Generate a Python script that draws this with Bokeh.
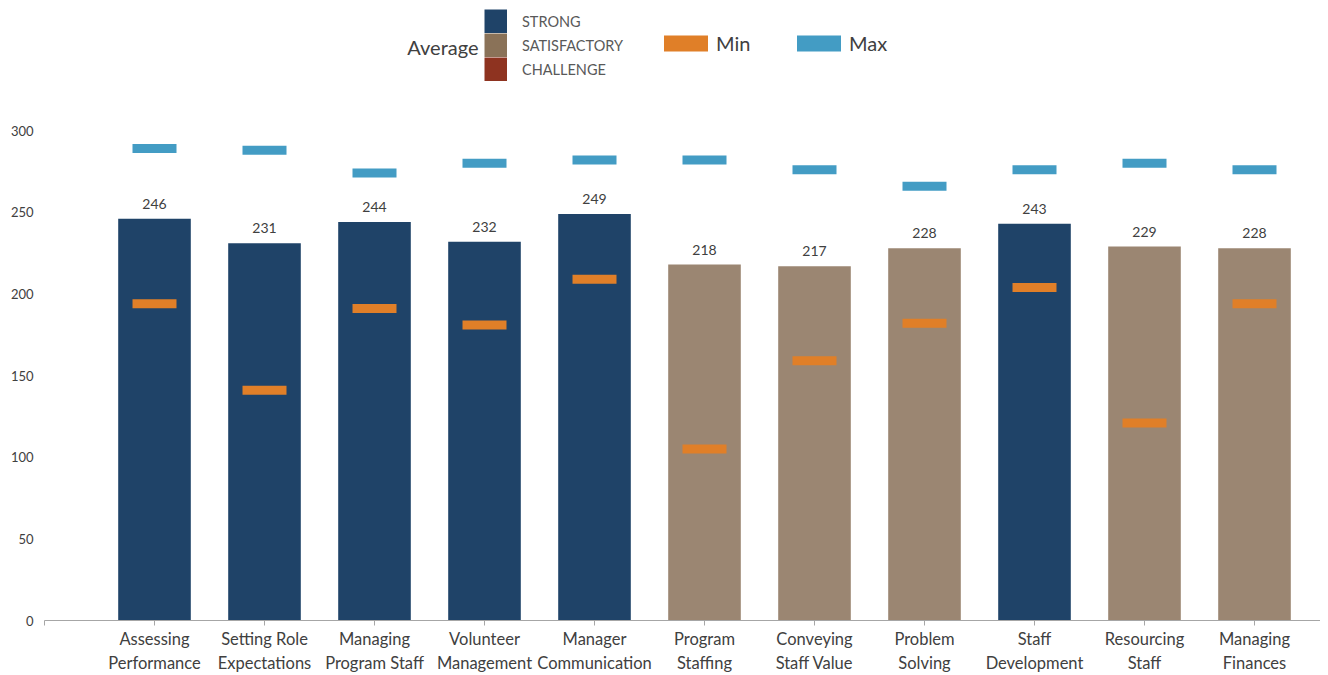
from bokeh.plotting import figure
from bokeh.models import ColumnDataSource, Range1d, FixedTicker, Legend, LegendItem, Label
from bokeh.embed import file_html
from bokeh.resources import INLINE
from bokeh.core.properties import value

categories = ["Assessing\nPerformance", "Setting Role\nExpectations", "Managing\nProgram Staff",
              "Volunteer\nManagement", "Manager\nCommunication", "Program\nStaffing",
              "Conveying\nStaff Value", "Problem\nSolving", "Staff\nDevelopment",
              "Resourcing\nStaff", "Managing\nFinances"]
average = [246, 231, 244, 232, 249, 218, 217, 228, 243, 229, 228]
minimum = [194, 141, 191, 181, 209, 105, 159, 182, 204, 121, 194]
maximum = [289, 288, 274, 280, 282, 282, 276, 266, 276, 280, 276]
rating = ["STRONG", "STRONG", "STRONG", "STRONG", "STRONG", "SATISFACTORY",
          "SATISFACTORY", "SATISFACTORY", "STRONG", "SATISFACTORY", "SATISFACTORY"]
rating_levels = ["STRONG", "SATISFACTORY", "CHALLENGE"]
bar_colors = {"STRONG": "#1F4368", "SATISFACTORY": "#9B8672", "CHALLENGE": "#8E3320"}
legend_colors = {"STRONG": "#1F4368", "SATISFACTORY": "#8A7258", "CHALLENGE": "#8E3320"}
y_ticks = [0, 50, 100, 150, 200, 250, 300]

FONT = "Lato"
NAN = float("nan")
xpos = list(range(1, len(categories) + 1))

p = figure(frame_width=1276, frame_height=612, x_range=Range1d(0, 11.6), y_range=Range1d(0, 374.8),
           output_backend="svg", toolbar_location=None, min_border_left=44, min_border_right=0,
           min_border_top=8, min_border_bottom=10)
p.outline_line_color = None
p.xgrid.visible = False
p.ygrid.visible = False

legend_items = []
for lvl in rating_levels:
    idx = [i for i, r in enumerate(rating) if r == lvl]
    rs = []
    if idx:
        src = ColumnDataSource(dict(x=[xpos[i] for i in idx], top=[average[i] for i in idx]))
        rs.append(p.vbar(x="x", top="top", bottom=0, width=0.66, source=src,
                         fill_color=bar_colors[lvl], line_color=None))
    # legend swatch (no data)
    rs.append(p.line(x=[NAN], y=[NAN], line_width=24, line_cap="butt",
                     line_color=legend_colors[lvl]))
    legend_items.append(LegendItem(label=lvl, renderers=rs))

src = ColumnDataSource(dict(x=xpos, avg=average, mn=minimum, mx=maximum,
                            lbl=[str(v) for v in average]))
r_min = p.rect(x="x", y="mn", width=0.4, height=9, height_units="screen", source=src,
               fill_color="#E07F28", line_color=None)
r_max = p.rect(x="x", y="mx", width=0.4, height=9, height_units="screen", source=src,
               fill_color="#439CC4", line_color=None)
p.text(x="x", y="avg", text="lbl", source=src, text_align="center", text_baseline="bottom",
       y_offset=-10, text_font=value(FONT), text_font_size="14px", text_color="#404040")

xa = p.xaxis[0]
xa.ticker = FixedTicker(ticks=[0] + xpos)
xa.major_label_overrides = {0: ""} | {x: c for x, c in zip(xpos, categories)}
xa.axis_line_color = "#A6A6A6"
xa.major_tick_line_color = "#A6A6A6"
xa.major_tick_in = 0
xa.major_tick_out = 5
xa.minor_tick_line_color = None
xa.major_label_text_font = FONT
xa.major_label_text_font_size = "16.5px"
xa.major_label_text_color = "#404040"
xa.major_label_standoff = 3

ya = p.yaxis[0]
ya.ticker = FixedTicker(ticks=y_ticks)
ya.axis_line_color = None
ya.major_tick_line_color = None
ya.major_tick_out = 0
ya.major_tick_in = 0
ya.minor_tick_line_color = None
ya.major_label_text_font = FONT
ya.major_label_text_font_size = "13px"
ya.major_label_text_color = "#404040"
ya.major_label_standoff = 11

common = dict(padding=0, margin=0, border_line_color=None, background_fill_alpha=0)
leg_r = Legend(items=legend_items, location=(440, 539), orientation="vertical",
               glyph_width=23, glyph_height=24, spacing=0, label_standoff=15, label_height=24,
               label_text_font=FONT, label_text_font_size="14.5px", label_text_color="#595959",
               **common)
leg_min = Legend(items=[LegendItem(label="Min", renderers=[r_min])], location=(614, 565),
                 glyph_width=55, glyph_height=20, label_standoff=3,
                 label_text_font=FONT, label_text_font_size="20px", label_text_color="#404040",
                 **common)
leg_max = Legend(items=[LegendItem(label="Max", renderers=[r_max])], location=(747, 565),
                 glyph_width=55, glyph_height=20, label_standoff=3,
                 label_text_font=FONT, label_text_font_size="20px", label_text_color="#404040",
                 **common)
for lg in (leg_r, leg_min, leg_max):
    p.add_layout(lg)

p.add_layout(Label(x=434, y=574, x_units="screen", y_units="screen", text="Average",
                   text_align="right", text_baseline="middle", text_font=FONT,
                   text_font_size="20px", text_color="#404040"))

open("out.html", "w").write(file_html(p, INLINE))
